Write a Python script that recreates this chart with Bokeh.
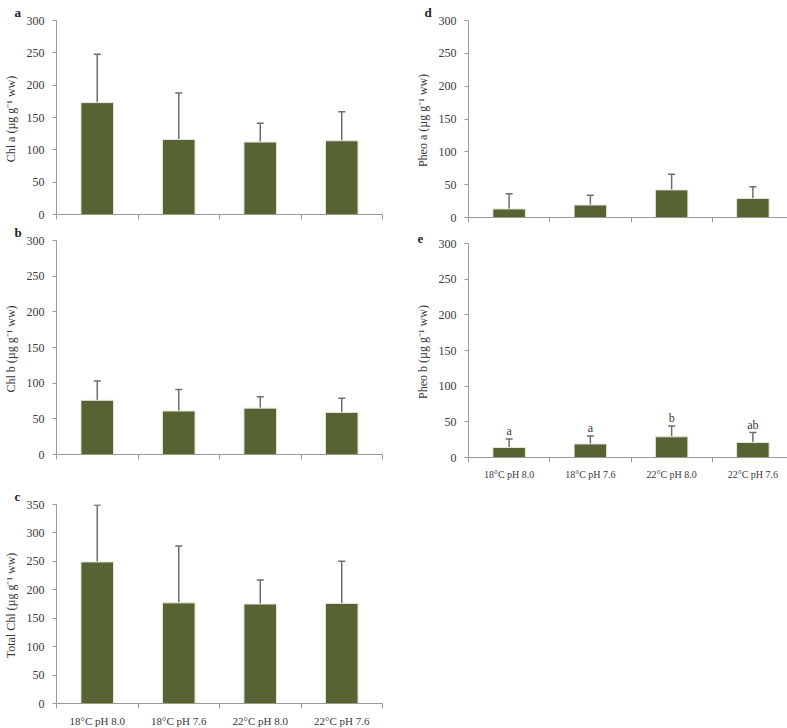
from bokeh.plotting import figure
from bokeh.layouts import row, column
from bokeh.models import ColumnDataSource, Whisker, TeeHead, FixedTicker, Range1d
from bokeh.embed import file_html
from bokeh.resources import INLINE
from bokeh.core.properties import value

categories = ["18°C pH 8.0", "18°C pH 7.6", "22°C pH 8.0", "22°C pH 7.6"]

chl_a = [173, 116, 112, 114]
chl_a_sd = [75, 72, 29, 45]

chl_b = [76, 61, 65, 59]
chl_b_sd = [27, 30, 16, 20]

total_chl = [249, 177, 175, 176]
total_chl_sd = [100, 100, 42, 74]

pheo_a = [13, 19, 42, 29]
pheo_a_sd = [23, 15, 24, 18]

pheo_b = [14, 19, 29, 21]
pheo_b_sd = [12, 11, 15, 14]
pheo_b_letters = ["a", "a", "b", "ab"]

y_ticks_300 = [0, 50, 100, 150, 200, 250, 300]
y_ticks_350 = [0, 50, 100, 150, 200, 250, 300, 350]

FONT = "Liberation Serif"
BAR = "#586333"
EDGE = "#e4e9d2"
AXIS = "#9a9a9a"
TEXT = "#3a3a3a"
ERR = "#6e6e6e"


def panel(letter, name, means, sds, yticks, fw, fh, bl, br, bt, bb,
          xlab_size, ldx, sig=None):
    n = len(categories)
    xs = [i + 0.5 for i in range(n)]
    tops = [m + s for m, s in zip(means, sds)]
    src = ColumnDataSource(dict(x=xs, m=means, top=tops))
    p = figure(frame_width=fw, frame_height=fh,
               min_border_left=bl, min_border_right=br,
               min_border_top=bt, min_border_bottom=bb,
               x_range=Range1d(0, n), y_range=Range1d(0, yticks[-1]),
               output_backend="svg", toolbar_location=None,
               outline_line_color=None, background_fill_color="white",
               title=letter)
    p.title.align = "left"
    p.title.offset = ldx
    p.title.standoff = 2
    p.title.text_font = FONT
    p.title.text_font_size = "13px"
    p.title.text_font_style = "bold"
    p.title.text_color = "#222222"

    p.grid.visible = False
    p.vbar(x="x", top="m", width=0.4, source=src, fill_color=BAR,
           line_color=EDGE, line_width=1)
    w = Whisker(source=src, base="x", lower="m", upper="top", dimension="height",
                line_color=ERR, line_width=1.5,
                upper_head=TeeHead(size=7, line_color=ERR, line_width=1.5),
                lower_head=None)
    p.add_layout(w)

    ya = p.yaxis[0]
    ya.ticker = FixedTicker(ticks=yticks)
    ya.axis_line_color = AXIS
    ya.major_tick_line_color = AXIS
    ya.major_tick_in = 0
    ya.major_tick_out = 4
    ya.minor_tick_line_color = None
    ya.major_label_text_font = FONT
    ya.major_label_text_font_size = "12px"
    ya.major_label_text_color = TEXT
    ya.major_label_standoff = 8
    ya.axis_label = name + "  (µg g⁻¹ ww)"
    ya.axis_label_text_font = FONT
    ya.axis_label_text_font_size = "12px"
    ya.axis_label_text_font_style = "normal"
    ya.axis_label_text_color = TEXT
    ya.axis_label_standoff = 6

    xa = p.xaxis[0]
    xa.ticker = FixedTicker(ticks=xs, minor_ticks=list(range(n + 1)))
    xa.axis_line_color = AXIS
    xa.major_tick_line_color = None
    xa.minor_tick_line_color = AXIS
    xa.minor_tick_in = 0
    xa.minor_tick_out = 5
    xa.major_label_text_font = FONT
    xa.major_label_text_color = TEXT
    if xlab_size:
        xa.major_label_overrides = {x: c for x, c in zip(xs, categories)}
        xa.major_label_text_font_size = xlab_size
        xa.major_label_standoff = 5
    else:
        xa.major_label_overrides = {x: "" for x in xs}
        xa.major_label_text_font_size = "1px"
        xa.major_label_standoff = 0

    if sig is not None:
        p.text(x=xs, y=tops, text=sig, text_align="center", text_baseline="bottom",
               y_offset=-1, text_font=value(FONT), text_font_size="12px",
               text_color=TEXT)
    return p


pa = panel("a", "Chl a", chl_a, chl_a_sd, y_ticks_300, 326, 194, 52, 30, 20, 6, None, -42)
pb = panel("b", "Chl b", chl_b, chl_b_sd, y_ticks_300, 326, 214, 52, 30, 20, 6, None, -42)
pc = panel("c", "Total Chl", total_chl, total_chl_sd, y_ticks_350, 326, 199, 52, 30, 44, 24, "11px", -42)
pd = panel("d", "Pheo a", pheo_a, pheo_a_sd, y_ticks_300, 325, 197, 52, 1, 20, 6, None, -44)
pe = panel("e", "Pheo b", pheo_b, pheo_b_sd, y_ticks_300, 325, 214, 52, 1, 20, 24, "10px", -51,
           sig=pheo_b_letters)

layout = row(column(pa, pb, pc, spacing=0), column(pd, pe, spacing=0), spacing=0)

open("out.html", "w").write(file_html(layout, INLINE))
